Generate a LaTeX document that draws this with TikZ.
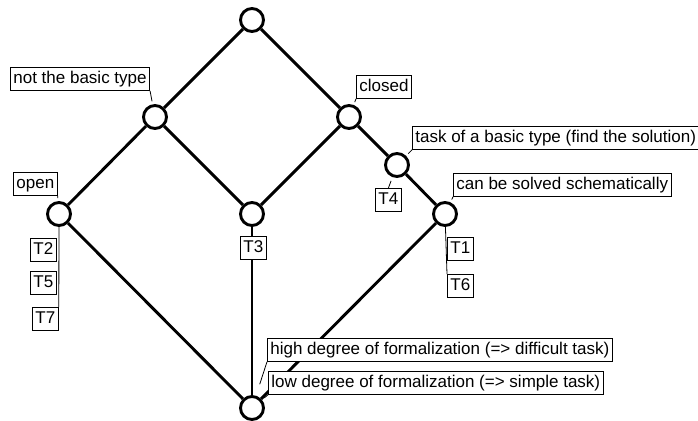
\documentclass[tikz,border=0pt]{standalone}
\usepackage{fontspec}
\setmainfont{Liberation Sans}

\begin{document}
\begin{tikzpicture}[x=1pt,y=-1pt]
  \tikzstyle{vertex}=[circle,draw=black,fill=white,line width=2.9pt,minimum size=23pt,inner sep=0pt]
  \tikzstyle{tag}=[draw=black,fill=white,line width=0.8pt,inner xsep=3pt,inner ysep=3.5pt,text height=12.5pt,text depth=3.5pt,minimum width=26pt,font=\fontsize{17}{20}\selectfont,anchor=north west]
  \tikzstyle{leader}=[line width=0.8pt,shorten >=3pt]
  \useasboundingbox (0,0) rectangle (698,420);

  \node[vertex] (top) at (252,20) {};
  \node[vertex] (nb)  at (155,117) {};
  \node[vertex] (cl)  at (349,117) {};
  \node[vertex] (op)  at (59,214) {};
  \node[vertex] (mid) at (252,214) {};
  \node[vertex] (tb)  at (397,165) {};
  \node[vertex] (sc)  at (445,214) {};
  \node[vertex] (bot) at (252,408) {};

  \draw[line width=2.9pt] (top) -- (nb) -- (op) -- (bot);
  \draw[line width=2.9pt] (top) -- (cl) -- (tb) -- (sc) -- (bot);
  \draw[line width=2.9pt] (nb) -- (mid) -- (cl);
  \draw[line width=2.9pt] (mid) -- (bot);

  % feature labels
  \node[tag] (nbl) at (10,67)   {not the basic type};
  \node[tag] (opl) at (13,172)  {open};
  \node[tag] (cll) at (356,75)  {closed};
  \node[tag] (tbl) at (412,126) {task of a basic type (find the solution)};
  \node[tag] (scl) at (453,173) {can be solved schematically};
  \node[tag] (hil) at (267,338) {high degree of formalization (=> difficult task)};
  \node[tag] (lol) at (268,371) {low degree of formalization (=> simple task)};

  % tasks
  \node[tag] (t2) at (30,238)  {T2};
  \node[tag] (t5) at (30,271)  {T5};
  \node[tag] (t7) at (32,307)  {T7};
  \node[tag] (t3) at (240,236) {T3};
  \node[tag] (t4) at (375,188) {T4};
  \node[tag] (t1) at (447,237) {T1};
  \node[tag] (t6) at (447,274) {T6};

  \draw[leader] (nbl.south east) -- (nb);
  \draw[leader] (opl.south east) -- (op);
  \draw[leader] (cll.south west) -- (cl);
  \draw[leader] (tbl.south west) -- (tb);
  \draw[leader] (scl.south west) -- (sc);
  \draw[leader,shorten >=12pt] (hil.south west) -- (bot);
  \draw[leader] (lol.south west) -- (bot);
  \draw[leader,shorten >=4pt] (t4.north) -- (tb);
  \draw[leader,shorten >=0pt] (op) -- (t7.north east);
  \draw[leader,shorten >=0pt] (sc) -- (t6.north west);
\end{tikzpicture}
\end{document}
